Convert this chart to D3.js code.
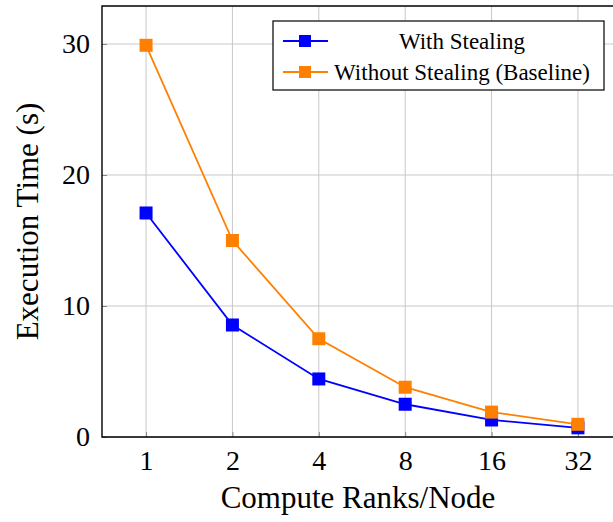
<!DOCTYPE html>
<html>
<head>
<meta charset="utf-8">
<script src="https://cdn.jsdelivr.net/npm/d3@7"></script>
<style>
	body { margin: 0; background: #fff; }
	text { font-family: "Liberation Serif", "DejaVu Serif", serif; fill: #000; }
</style>
</head>
<body>
<svg id="chart" width="613" height="522"></svg>
<script>
// chart values
var ranks = [1, 2, 4, 8, 16, 32];
var withStealing = [17.1, 8.55, 4.43, 2.5, 1.3, 0.7];
var withoutStealing = [29.9, 15.0, 7.5, 3.8, 1.9, 0.97];
var yTicks = [0, 10, 20, 30];
var seriesNames = ["With Stealing", "Without Stealing (Baseline)"];
var seriesColors = ["#0000ff", "#ff8000"];

var margin = { left: 102, top: 6, right: 622, bottom: 437 };

var svg = d3.select("#chart");

var xScale = d3.scaleLog().base(2)
	.domain([Math.pow(2, -0.51), Math.pow(2, 5.51)])
	.range([margin.left, margin.right]);

var yScale = d3.scaleLinear()
	.domain([0, 32.9])
	.range([margin.bottom, margin.top]);

// grid
var grid = svg.append("g").attr("class", "grid");

grid.selectAll(".vgrid")
	.data(ranks)
	.enter()
	.append("line")
		.attr("x1", function(d) { return xScale(d); })
		.attr("x2", function(d) { return xScale(d); })
		.attr("y1", margin.top)
		.attr("y2", margin.bottom)
		.style("stroke", "#c8c8c8")
		.style("stroke-width", 1);

grid.selectAll(".hgrid")
	.data(yTicks)
	.enter()
	.append("line")
		.attr("x1", margin.left)
		.attr("x2", margin.right)
		.attr("y1", function(d) { return yScale(d); })
		.attr("y2", function(d) { return yScale(d); })
		.style("stroke", "#c8c8c8")
		.style("stroke-width", 1);

// axes
var xAxis = d3.axisBottom(xScale)
	.tickValues(ranks)
	.tickFormat(d3.format("d"))
	.tickSize(-5)
	.tickPadding(13);

var yAxis = d3.axisLeft(yScale)
	.tickValues(yTicks)
	.tickSize(-5)
	.tickPadding(12);

var gx = svg.append("g")
	.attr("class", "x axis")
	.attr("transform", "translate(0," + margin.bottom + ")")
	.call(xAxis);

var gy = svg.append("g")
	.attr("class", "y axis")
	.attr("transform", "translate(" + margin.left + ",0)")
	.call(yAxis);

svg.selectAll(".axis .domain").remove();
svg.selectAll(".axis .tick line").style("stroke", "#888888").style("stroke-width", 1);
svg.selectAll(".axis text")
	.style("font-family", "Liberation Serif")
	.style("font-size", "28px");
gx.selectAll("text").attr("dy", "0.71em");

// frame (top, left, bottom)
svg.append("path")
	.attr("d", "M" + margin.right + "," + margin.top + "H" + margin.left + "V" + margin.bottom + "H" + margin.right)
	.style("fill", "none")
	.style("stroke", "#000")
	.style("stroke-width", 1.4);

// axis labels
svg.append("text")
	.attr("x", 358)
	.attr("y", 508)
	.attr("text-anchor", "middle")
	.style("font-size", "31px")
	.text("Compute Ranks/Node");

svg.append("text")
	.attr("transform", "translate(38," + (margin.top + margin.bottom) / 2 + ") rotate(-90)")
	.attr("text-anchor", "middle")
	.style("font-size", "31px")
	.text("Execution Time (s)");

// series
var line = d3.line()
	.x(function(d) { return xScale(d[0]); })
	.y(function(d) { return yScale(d[1]); });

var series = [withStealing, withoutStealing];

series.forEach(function(values, i)
{
	var pts = ranks.map(function(r, j) { return [r, values[j]]; });

	svg.append("path")
		.datum(pts)
		.attr("d", line)
		.style("fill", "none")
		.style("stroke", seriesColors[i])
		.style("stroke-width", 1.8);

	svg.selectAll(".mark" + i)
		.data(pts)
		.enter()
		.append("rect")
			.attr("x", function(d) { return xScale(d[0]) - 6.5; })
			.attr("y", function(d) { return yScale(d[1]) - 6.5; })
			.attr("width", 13)
			.attr("height", 13)
			.style("fill", seriesColors[i]);
});

// legend
var legend = svg.append("g").attr("class", "legend");

legend.append("rect")
	.attr("x", 273)
	.attr("y", 21)
	.attr("width", 331)
	.attr("height", 69)
	.style("fill", "#fff")
	.style("stroke", "#000")
	.style("stroke-width", 1.2);

seriesNames.forEach(function(name, i)
{
	var cy = 41 + i * 31;

	legend.append("line")
		.attr("x1", 283)
		.attr("x2", 328)
		.attr("y1", cy)
		.attr("y2", cy)
		.style("stroke", seriesColors[i])
		.style("stroke-width", 1.8);

	legend.append("rect")
		.attr("x", 299)
		.attr("y", cy - 6)
		.attr("width", 12)
		.attr("height", 12)
		.style("fill", seriesColors[i]);

	legend.append("text")
		.attr("x", 462)
		.attr("y", cy)
		.attr("dy", "0.35em")
		.attr("text-anchor", "middle")
		.style("font-size", "23px")
		.text(name);
});
</script>
</body>
</html>
